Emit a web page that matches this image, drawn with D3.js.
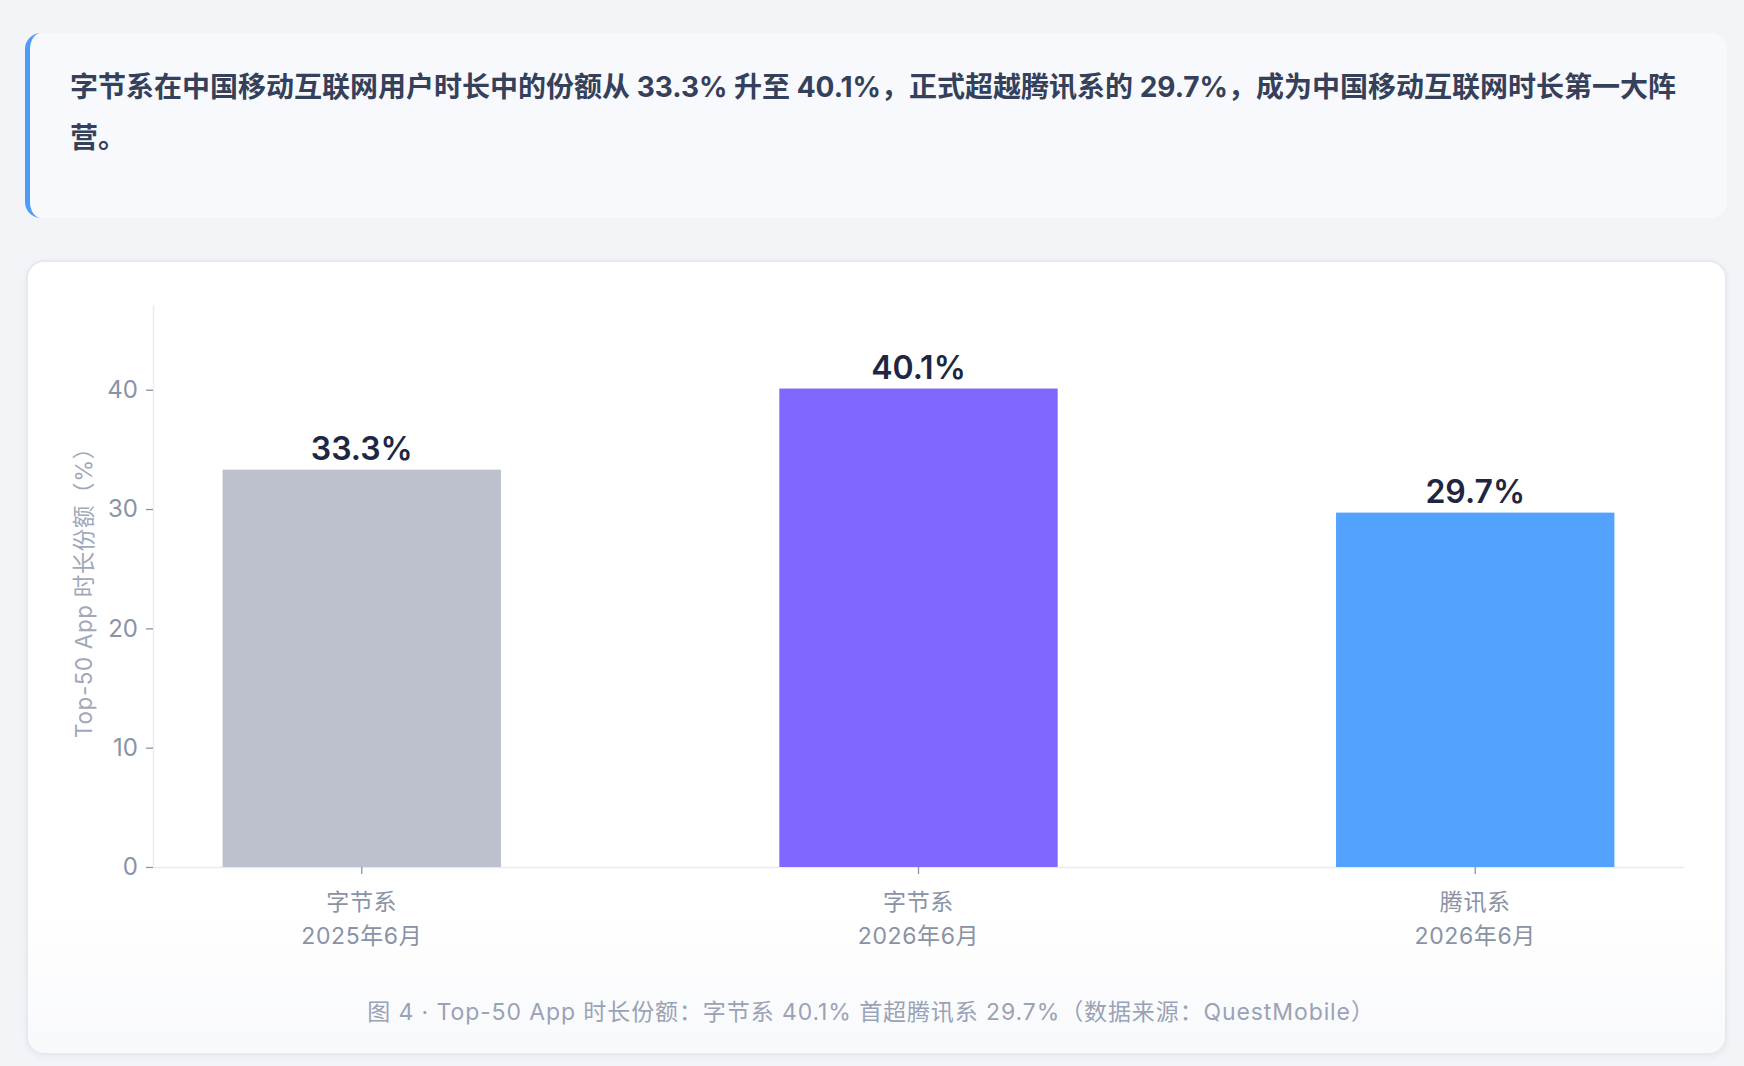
<!DOCTYPE html>
<html>
<head>
<meta charset="utf-8">
<script src="https://cdn.jsdelivr.net/npm/d3@7"></script>
<style>
  html, body { margin: 0; padding: 0; }
  body { width: 1744px; height: 1066px; background: #f2f4f8; position: relative; overflow: hidden;
         font-family: "Inter", "Noto Sans CJK SC", sans-serif; }
  .callout { position: absolute; left: 25px; top: 33px; width: 1697px; height: 185px;
             background: #f7f9fc; border-left: 5px solid #4d9cf6; border-radius: 16px; }
  .card { position: absolute; left: 26px; top: 260px; width: 1697px; height: 791px;
          background: linear-gradient(to bottom, #ffffff 82%, #f8f9fb 100%);
          border: 2px solid #e6e9ef; border-radius: 18px;
          box-shadow: 0 2px 6px rgba(30,40,70,0.05); }
  svg { position: absolute; left: 0; top: 0; }
</style>
</head>
<body>
<div class="callout"></div>
<div class="card"></div>
<svg id="chart" width="1744" height="1066"></svg>
<script>
// ---- data ----
const categories = ["字节系|2025年6月", "字节系|2026年6月", "腾讯系|2026年6月"];
const values = [33.3, 40.1, 29.7];
const barColors = ["#bdc1cd", "#8068fe", "#52a2fe"];
const yTicks = [0, 10, 20, 30, 40];
const yMax = 47.1;
const calloutLines = [
  "字节系在中国移动互联网用户时长中的份额从 33.3% 升至 40.1%，正式超越腾讯系的 29.7%，成为中国移动互联网时长第一大阵",
  "营。"
];
const yTitle = "Top-50 App 时长份额（%）";
const caption = "图 4 · Top-50 App 时长份额：字节系 40.1% 首超腾讯系 29.7%（数据来源：QuestMobile）";

const svg = d3.select("#chart");
const font = '"Inter", "Noto Sans CJK SC", sans-serif';

// callout text
svg.selectAll("text.callout").data(calloutLines).enter().append("text")
  .attr("class", "callout")
  .attr("x", 70)
  .attr("y", (d, i) => 87 + i * 51)
  .attr("dominant-baseline", "central")
  .attr("font-family", font)
  .attr("font-size", 28)
  .attr("font-weight", 700)
  .attr("fill", "#35405a")
  .text(d => d);

// scales
const x = d3.scaleBand().domain(categories).range([153, 1684]).paddingInner(0.5).paddingOuter(0.125);
const y = d3.scaleLinear().domain([0, yMax]).range([867, 305]);

// y axis
const yAxis = svg.append("g").attr("transform", "translate(153,0)")
  .call(d3.axisLeft(y).tickValues(yTicks).tickSize(7).tickSizeOuter(0).tickPadding(8));
yAxis.select(".domain").attr("stroke", "#e8eaf0").attr("stroke-width", 1.5);
yAxis.selectAll(".tick line").attr("stroke", "#8a92a5").attr("stroke-width", 1.3);
yAxis.selectAll(".tick text").attr("fill", "#8a92a5").attr("font-size", 24).attr("font-family", font);

// x axis
const xAxis = svg.append("g").attr("transform", "translate(0,867)")
  .call(d3.axisBottom(x).tickSize(7).tickSizeOuter(0).tickFormat(""));
xAxis.select(".domain").attr("stroke", "#e8eaf0").attr("stroke-width", 1.5);
xAxis.selectAll(".tick line").attr("stroke", "#8a92a5").attr("stroke-width", 1.3);
xAxis.selectAll(".tick text").remove();
xAxis.selectAll(".tick").each(function(d) {
  const parts = d.split("|");
  const t = d3.select(this).append("text")
    .attr("fill", "#8a92a5").attr("font-size", 23).attr("font-family", font)
    .attr("letter-spacing", 0.6)
    .attr("text-anchor", "middle");
  t.append("tspan").attr("x", 0).attr("y", 35).attr("dominant-baseline", "central").text(parts[0]);
  t.append("tspan").attr("x", 0).attr("y", 69).attr("dominant-baseline", "central").text(parts[1]);
});

// bars
svg.append("g").selectAll("rect").data(values).enter().append("rect")
  .attr("x", (d, i) => x(categories[i]))
  .attr("width", x.bandwidth())
  .attr("y", d => y(d))
  .attr("height", d => y(0) - y(d))
  .attr("fill", (d, i) => barColors[i]);

// value labels
svg.append("g").selectAll("text").data(values).enter().append("text")
  .attr("x", (d, i) => x(categories[i]) + x.bandwidth() / 2)
  .attr("y", d => y(d) - 10)
  .attr("text-anchor", "middle")
  .attr("font-family", font)
  .attr("font-size", 32)
  .attr("font-weight", 600)
  .attr("fill", "#1e2642")
  .text(d => d.toFixed(1) + "%");

// y title
svg.append("text")
  .attr("transform", "translate(83,587) rotate(-90)")
  .attr("text-anchor", "middle")
  .attr("dominant-baseline", "central")
  .attr("font-family", font)
  .attr("font-size", 22.5)
  .attr("letter-spacing", 0.6)
  .attr("fill", "#a0a8b9")
  .text(yTitle);

// caption
svg.append("text")
  .attr("x", 871).attr("y", 1012)
  .attr("text-anchor", "middle")
  .attr("dominant-baseline", "central")
  .attr("font-family", font)
  .attr("font-size", 23)
  .attr("letter-spacing", 0.9)
  .attr("fill", "#9aa2b6")
  .text(caption);
</script>
</body>
</html>
